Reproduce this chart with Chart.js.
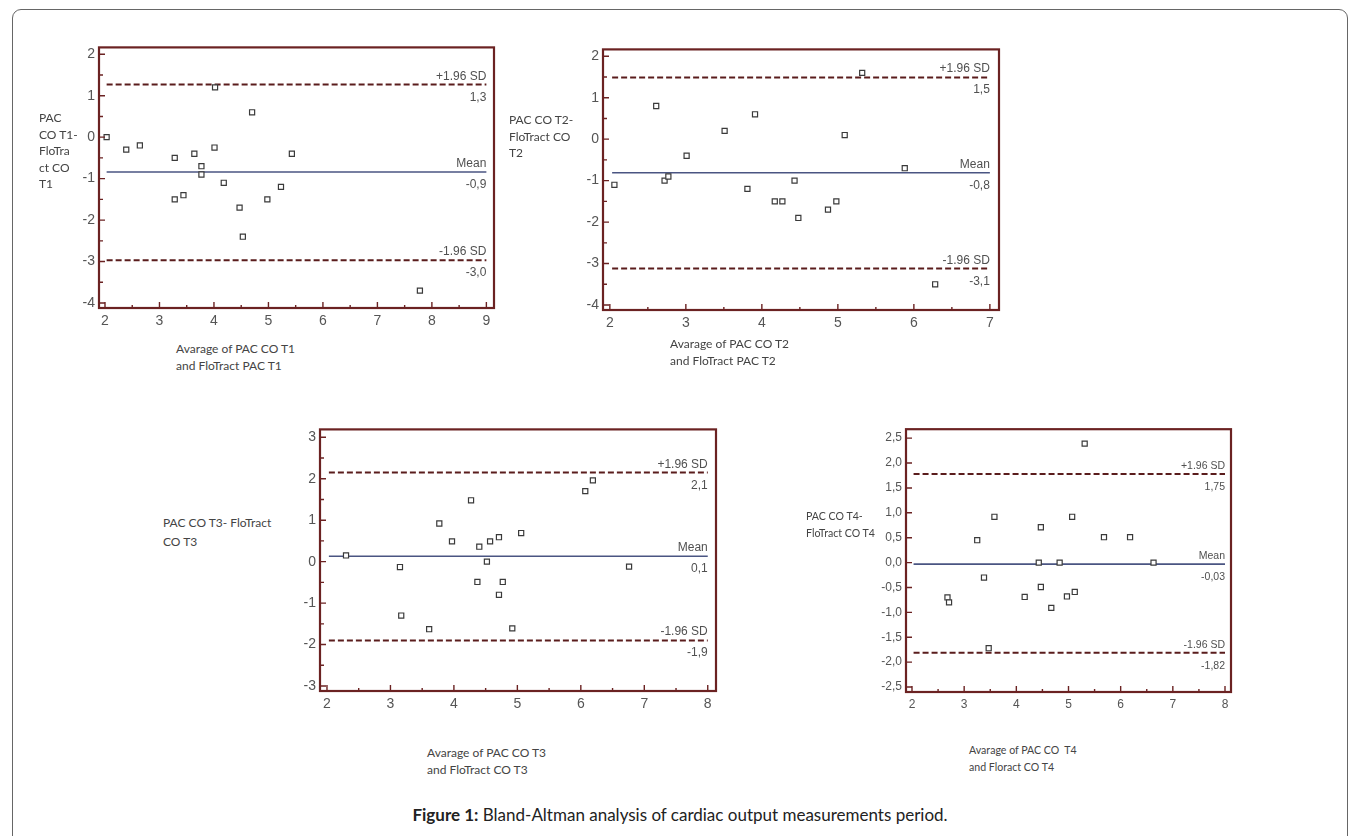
<!DOCTYPE html>
<html>
<head>
<meta charset="utf-8">
<title>Figure 1: Bland-Altman analysis</title>
<script src="https://cdn.jsdelivr.net/npm/chart.js@4.4.1/dist/chart.umd.min.js"></script>
<style>
    body { margin: 0; background: #fff; width: 1360px; height: 836px; overflow: hidden; position: relative; font-family: Lato, "Open Sans", sans-serif; }
    .frame { position: absolute; left: 12px; top: 9px; width: 1334px; height: 900px; border: 1.5px solid #666; border-radius: 9px; }
    .plot { position: absolute; }
    .ttl { position: absolute; font-size: 12px; line-height: 16.5px; color: #444; white-space: nowrap; }
    .small { font-size: 10.6px; line-height: 17px; }
    .caption { position: absolute; left: 0; width: 1360px; top: 804px; text-align: center; font-size: 17px; color: #222; }
</style>
</head>
<body>
<div class="frame"></div>

<div class="plot" id="wrap1"><canvas id="chart1"></canvas></div>
<div class="plot" id="wrap2"><canvas id="chart2"></canvas></div>
<div class="plot" id="wrap3"><canvas id="chart3"></canvas></div>
<div class="plot" id="wrap4"><canvas id="chart4"></canvas></div>

<div class="ttl" style="left:39px; top:110px;">PAC<br>CO T1-<br>FloTra<br>ct CO<br>T1</div>
<div class="ttl" style="left:176px; top:341px;">Avarage of PAC CO T1<br>and FloTract PAC T1</div>
<div class="ttl" style="left:509px; top:112px;">PAC CO T2-<br>FloTract CO<br>T2</div>
<div class="ttl" style="left:670px; top:336px;">Avarage of PAC CO T2<br>and FloTract PAC T2</div>
<div class="ttl" style="left:163px; top:513px; line-height:19px;">PAC CO T3- FloTract<br>CO T3</div>
<div class="ttl" style="left:427px; top:745px;">Avarage of PAC CO T3<br>and FloTract CO T3</div>
<div class="ttl small" style="left:806px; top:508px;">PAC CO T4-<br>FloTract CO T4</div>
<div class="ttl small" style="left:969px; top:742px;">Avarage of PAC CO&nbsp; T4<br>and Floract CO T4</div>

<div class="caption"><b>Figure 1:</b> Bland-Altman analysis of cardiac output measurements period.</div>

<script>
// ===== data =====
// T1
var p1X = [2.03, 2.39, 2.64, 3.28, 3.28, 3.44, 3.64, 3.77, 3.77, 4.01, 4.02, 4.18, 4.47, 4.53, 4.70, 4.98, 5.23, 5.43, 7.78];
var p1Y = [0, -0.3, -0.2, -0.5, -1.5, -1.4, -0.4, -0.7, -0.9, -0.25, 1.2, -1.1, -1.7, -2.4, 0.6, -1.5, -1.2, -0.4, -3.7];
var p1Lines = [1.27, -0.84, -2.97];
var p1LineText = ['1,3', '-0,9', '-3,0'];

// T2
var p2X = [2.06, 2.61, 2.72, 2.77, 3.01, 3.51, 3.81, 3.91, 4.17, 4.27, 4.43, 4.48, 4.87, 4.98, 5.09, 5.32, 5.88, 6.28];
var p2Y = [-1.1, 0.8, -1.0, -0.9, -0.4, 0.2, -1.2, 0.6, -1.5, -1.5, -1.0, -1.9, -1.7, -1.5, 0.1, 1.6, -0.7, -3.5];
var p2Lines = [1.49, -0.81, -3.12];
var p2LineText = ['1,5', '-0,8', '-3,1'];

// T3
var p3X = [2.30, 3.15, 3.17, 3.61, 3.77, 3.97, 4.27, 4.37, 4.40, 4.52, 4.57, 4.71, 4.71, 4.77, 4.92, 5.06, 6.07, 6.19, 6.76];
var p3Y = [0.15, -0.13, -1.3, -1.63, 0.92, 0.49, 1.48, -0.49, 0.36, 0, 0.49, 0.59, -0.8, -0.49, -1.61, 0.69, 1.7, 1.96, -0.12];
var p3Lines = [2.15, 0.13, -1.90];
var p3LineText = ['2,1', '0,1', '-1,9'];

// T4
var p4X = [2.68, 2.71, 3.25, 3.38, 3.47, 3.58, 4.16, 4.43, 4.47, 4.47, 4.67, 4.83, 4.97, 5.07, 5.12, 5.31, 5.68, 6.18, 6.63];
var p4Y = [-0.7, -0.8, 0.45, -0.3, -1.72, 0.92, -0.69, 0, 0.71, -0.49, -0.91, 0, -0.68, 0.92, -0.59, 2.39, 0.51, 0.51, 0];
var p4Lines = [1.78, -0.03, -1.81];
var p4LineText = ['1,75', '-0,03', '-1,82'];

var lineNames = ['+1.96 SD', 'Mean', '-1.96 SD'];

// ticks (major = labelled, minor = short marks only)
var p1XMajor = [2, 3, 4, 5, 6, 7, 8, 9];
var p1XMinor = [2.5, 3.5, 4.5, 5.5, 6.5, 7.5, 8.5];
var p1YMajor = [-4, -3, -2, -1, 0, 1, 2];
var p1YMinor = [-3.5, -2.5, -1.5, -0.5, 0.5, 1.5];

var p2XMajor = [2, 3, 4, 5, 6, 7];
var p2XMinor = [2.5, 3.5, 4.5, 5.5, 6.5];
var p2YMajor = [-4, -3, -2, -1, 0, 1, 2];
var p2YMinor = [-3.5, -2.5, -1.5, -0.5, 0.5, 1.5];

var p3XMajor = [2, 3, 4, 5, 6, 7, 8];
var p3XMinor = [2.5, 3.5, 4.5, 5.5, 6.5, 7.5];
var p3YMajor = [-3, -2, -1, 0, 1, 2, 3];
var p3YMinor = [-2.5, -1.5, -0.5, 0.5, 1.5, 2.5];

var p4XMajor = [2, 3, 4, 5, 6, 7, 8];
var p4XMinor = [2.5, 3.5, 4.5, 5.5, 6.5, 7.5];
var p4YMajor = [-2.5, -2, -1.5, -1, -0.5, 0, 0.5, 1, 1.5, 2, 2.5];
var p4YMinor = [];

// ===== helpers =====
function toPoints(xs, ys) {
    return xs.map(function (x, i) { return { x: x, y: ys[i] }; });
}

function framePlugin(cfg) {
    return {
        id: 'frame',
        afterDraw: function (chart) {
            var ctx = chart.ctx;
            var a = chart.chartArea;
            var xs = chart.scales.x;
            var ys = chart.scales.y;
            ctx.save();

            // inward tick marks
            ctx.strokeStyle = '#6b2222';
            ctx.lineWidth = 1.4;
            ctx.beginPath();
            function tickX(v, len) { var p = xs.getPixelForValue(v); ctx.moveTo(p, a.bottom); ctx.lineTo(p, a.bottom - len); }
            function tickY(v, len) { var p = ys.getPixelForValue(v); ctx.moveTo(a.left, p); ctx.lineTo(a.left + len, p); }
            cfg.xMajor.forEach(function (v) { tickX(v, 6); });
            cfg.xMinor.forEach(function (v) { tickX(v, 3); });
            cfg.yMajor.forEach(function (v) { tickY(v, 6); });
            cfg.yMinor.forEach(function (v) { tickY(v, 4); });
            ctx.stroke();

            // box
            ctx.lineWidth = 2.2;
            ctx.strokeRect(a.left, a.top, a.right - a.left, a.bottom - a.top);

            // line labels
            ctx.font = cfg.labelSize + 'px "Liberation Sans", Arial, sans-serif';
            ctx.fillStyle = '#505050';
            ctx.textAlign = 'right';
            ctx.textBaseline = 'alphabetic';
            var xe = xs.getPixelForValue(cfg.lineEnd);
            cfg.lines.forEach(function (v, i) {
                var y = ys.getPixelForValue(v);
                ctx.fillText(lineNames[i], xe, y - 5);
                ctx.fillText(cfg.lineText[i], xe, y + 16);
            });
            ctx.restore();
        }
    };
}

function makePanel(cfg) {
    var wrap = document.getElementById(cfg.wrap);
    var canvas = document.getElementById(cfg.canvas);
    var w = cfg.box[2] - cfg.box[0] + 46;
    var h = cfg.box[3] - cfg.box[1] + 6 + 28;
    wrap.style.left = (cfg.box[0] - 40) + 'px';
    wrap.style.top = (cfg.box[1] - 6) + 'px';
    canvas.width = w;
    canvas.height = h;

    var lineData = cfg.lines.map(function (v, i) {
        return {
            type: 'line',
            data: [{ x: cfg.lineStart, y: v }, { x: cfg.lineEnd, y: v }],
            borderColor: i === 1 ? '#4a5582' : '#5a1c1c',
            borderWidth: i === 1 ? 1.6 : 2,
            borderDash: i === 1 ? [] : [6, 3],
            pointRadius: 0,
            fill: false,
            order: 2
        };
    });

    var tickFont = { family: '"Liberation Sans", Arial, sans-serif', size: cfg.tickSize };

    return new Chart(canvas, {
        type: 'scatter',
        data: {
            datasets: [{
                data: toPoints(cfg.px, cfg.py),
                pointStyle: 'rect',
                pointRadius: 3.6,
                borderWidth: 1.2,
                borderColor: '#3a3a3a',
                backgroundColor: '#fff',
                order: 1
            }].concat(lineData)
        },
        options: {
            responsive: false,
            animation: false,
            layout: { padding: { left: 0, top: 6, right: 6, bottom: 0 } },
            plugins: { legend: { display: false }, tooltip: { enabled: false } },
            scales: {
                x: {
                    type: 'linear',
                    min: cfg.xRange[0], max: cfg.xRange[1],
                    afterBuildTicks: function (axis) { axis.ticks = cfg.xMajor.map(function (v) { return { value: v }; }); },
                    afterFit: function (axis) { axis.height = 28; },
                    grid: { display: false, drawTicks: false },
                    border: { display: false },
                    ticks: { autoSkip: false, maxRotation: 0, padding: 5, color: '#555', font: tickFont,
                        callback: function (v) { return String(v); } }
                },
                y: {
                    type: 'linear',
                    min: cfg.yRange[0], max: cfg.yRange[1],
                    afterBuildTicks: function (axis) { axis.ticks = cfg.yMajor.map(function (v) { return { value: v }; }); },
                    afterFit: function (axis) { axis.width = 40; },
                    grid: { display: false, drawTicks: false },
                    border: { display: false },
                    ticks: { autoSkip: false, padding: 4, color: '#555', font: tickFont, callback: cfg.yFormat }
                }
            }
        },
        plugins: [framePlugin(cfg)]
    });
}

function intLabel(v) { return String(v); }
function commaLabel(v) { return v.toFixed(1).replace('.', ','); }

// ===== panels =====
makePanel({ wrap: 'wrap1', canvas: 'chart1', box: [99, 41, 494, 308],
    xRange: [1.89, 9.14], yRange: [-4.12, 2.165],
    px: p1X, py: p1Y, lines: p1Lines, lineText: p1LineText, lineStart: 2.03, lineEnd: 9,
    xMajor: p1XMajor, xMinor: p1XMinor, yMajor: p1YMajor, yMinor: p1YMinor, yFormat: intLabel,
    tickSize: 14, labelSize: 12 });

makePanel({ wrap: 'wrap2', canvas: 'chart2', box: [603, 43, 999, 310],
    xRange: [1.91, 7.12], yRange: [-4.12, 2.165],
    px: p2X, py: p2Y, lines: p2Lines, lineText: p2LineText, lineStart: 2.03, lineEnd: 7,
    xMajor: p2XMajor, xMinor: p2XMinor, yMajor: p2YMajor, yMinor: p2YMinor, yFormat: intLabel,
    tickSize: 14, labelSize: 12 });

makePanel({ wrap: 'wrap3', canvas: 'chart3', box: [320, 423, 716, 691],
    xRange: [1.89, 8.13], yRange: [-3.12, 3.19],
    px: p3X, py: p3Y, lines: p3Lines, lineText: p3LineText, lineStart: 2.03, lineEnd: 8,
    xMajor: p3XMajor, xMinor: p3XMinor, yMajor: p3YMajor, yMinor: p3YMinor, yFormat: intLabel,
    tickSize: 14, labelSize: 12 });

makePanel({ wrap: 'wrap4', canvas: 'chart4', box: [906, 424, 1231, 692],
    xRange: [1.885, 8.115], yRange: [-2.6, 2.68],
    px: p4X, py: p4Y, lines: p4Lines, lineText: p4LineText, lineStart: 2.03, lineEnd: 8,
    xMajor: p4XMajor, xMinor: p4XMinor, yMajor: p4YMajor, yMinor: p4YMinor, yFormat: commaLabel,
    tickSize: 12, labelSize: 10.5 });
</script>
</body>
</html>
